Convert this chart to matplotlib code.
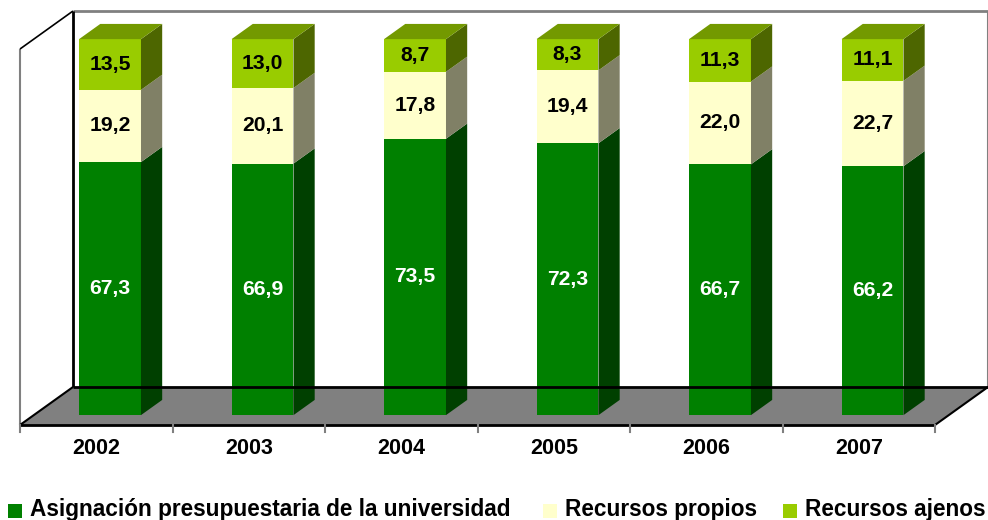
import matplotlib.pyplot as plt
from matplotlib.patches import Polygon, Rectangle

# ====== DATA ======
years = ["2002", "2003", "2004", "2005", "2006", "2007"]
asignacion = [67.3, 66.9, 73.5, 72.3, 66.7, 66.2]
propios = [19.2, 20.1, 17.8, 19.4, 22.0, 22.7]
ajenos = [13.5, 13.0, 8.7, 8.3, 11.3, 11.1]
series_names = ["Asignación presupuestaria de la universidad",
                "Recursos propios", "Recursos ajenos"]

# ====== STYLE ======
# (front, side, top) for each series
colors = [("#008000", "#004000", "#006000"),
          ("#FFFFCC", "#808066", "#BFBF99"),
          ("#99CC00", "#4D6600", "#739900")]
label_colors = ["white", "black", "black"]
FONT = "Liberation Sans"

# fake 3D geometry: a point (u, v, d) -> (u + DX*d, v + DY*d)
PX_U, PX_V = 152.5, 3.76
DX, DY = 53 / PX_U, 38 / PX_V
BAR_W = 0.406
D0, D1 = 0.26, 0.66
VMAX = 100


def proj(u, v, d):
    return (u + DX * d, v + DY * d)


def box_faces(u0, u1, v0, v1, d0, d1):
    front = [proj(u0, v0, d0), proj(u1, v0, d0), proj(u1, v1, d0), proj(u0, v1, d0)]
    side = [proj(u1, v0, d0), proj(u1, v0, d1), proj(u1, v1, d1), proj(u1, v1, d0)]
    top = [proj(u0, v1, d0), proj(u1, v1, d0), proj(u1, v1, d1), proj(u0, v1, d1)]
    return front, side, top


fig = plt.figure(figsize=(9.88, 5.2), dpi=100)
ax = fig.add_axes([0, 0, 1, 1])
ax.set_xlim(-20 / PX_U, 968 / PX_U)
ax.set_ylim(-(520 - 425) / PX_V, 425 / PX_V)
ax.axis("off")

n = len(years)

# walls and floor
floor = [proj(0, 0, 0), proj(n, 0, 0), proj(n, 0, 1), proj(0, 0, 1)]
ax.add_patch(Polygon(floor, closed=True, facecolor="#808080", edgecolor="none"))
left_wall = [proj(0, 0, 0), proj(0, 0, 1), proj(0, VMAX, 1), proj(0, VMAX, 0)]
ax.add_patch(Polygon(left_wall, closed=True, facecolor="white", edgecolor="none"))

def seg(p, q, color, lw=1.5):
    ax.plot([p[0], q[0]], [p[1], q[1]], color=color, lw=lw, solid_capstyle="butt")

seg(proj(0, VMAX, 1), proj(n, VMAX, 1), "#808080", 2)
seg(proj(n, 0, 1), proj(n, VMAX, 1), "#808080", 1.5)
seg(proj(0, 0, 0), proj(0, VMAX, 0), "#808080", 1.5)
seg(proj(0, VMAX, 0), proj(0, VMAX, 1), "black", 1.2)
seg(proj(0, 0, 1), proj(0, VMAX, 1), "black", 2)
seg(proj(0, 0, 1), proj(n, 0, 1), "black", 2)
seg(proj(0, 0, 0), proj(n, 0, 0), "black", 2)
seg(proj(0, 0, 0), proj(0, 0, 1), "black", 1.5)
seg(proj(n, 0, 0), proj(n, 0, 1), "black", 1.5)
for i in range(n + 1):
    x, y = proj(i, 0, 0)
    ax.plot([x, x], [y, y - 7 / PX_V], color="#808080", lw=1.5)

# bars
data = [asignacion, propios, ajenos]
for i in range(n):
    u0 = i + 0.5 - BAR_W / 2
    u1 = i + 0.5 + BAR_W / 2
    base = 0
    for k, vals in enumerate(data):
        v = vals[i]
        front, side, top = box_faces(u0, u1, base, base + v, D0, D1)
        ax.add_patch(Polygon(front, closed=True, facecolor=colors[k][0], edgecolor="none"))
        ax.add_patch(Polygon(side, closed=True, facecolor=colors[k][1], edgecolor="none"))
        if k == len(data) - 1:
            ax.add_patch(Polygon(top, closed=True, facecolor=colors[k][2], edgecolor="none"))
        tx, ty = proj(i + 0.5, base + v / 2, D0)
        ax.text(tx, ty, f"{v:.1f}".replace(".", ","), ha="center", va="center",
                fontsize=15.2, fontweight="bold", color=label_colors[k], family=FONT)
        base += v
    lx, ly = proj(i + 0.5, 0, 0)
    ax.text(lx, ly - 23 / PX_V, years[i], ha="center", va="center",
            fontsize=15.5, fontweight="bold", color="black", family=FONT)

# legend
leg_x = [8, 543, 783]
for k, name in enumerate(series_names):
    x0 = leg_x[k]
    fig.patches.append(Rectangle((x0 / 988, 1 - 518 / 520), 14 / 988, 14 / 520,
                                 transform=fig.transFigure, facecolor=colors[k][0],
                                 edgecolor="none"))
    fig.text((x0 + 22) / 988, 1 - 516 / 520, name, ha="left", va="baseline",
             fontsize=16.3, fontweight="bold", family=FONT)

fig.savefig("out.png", dpi=100)
